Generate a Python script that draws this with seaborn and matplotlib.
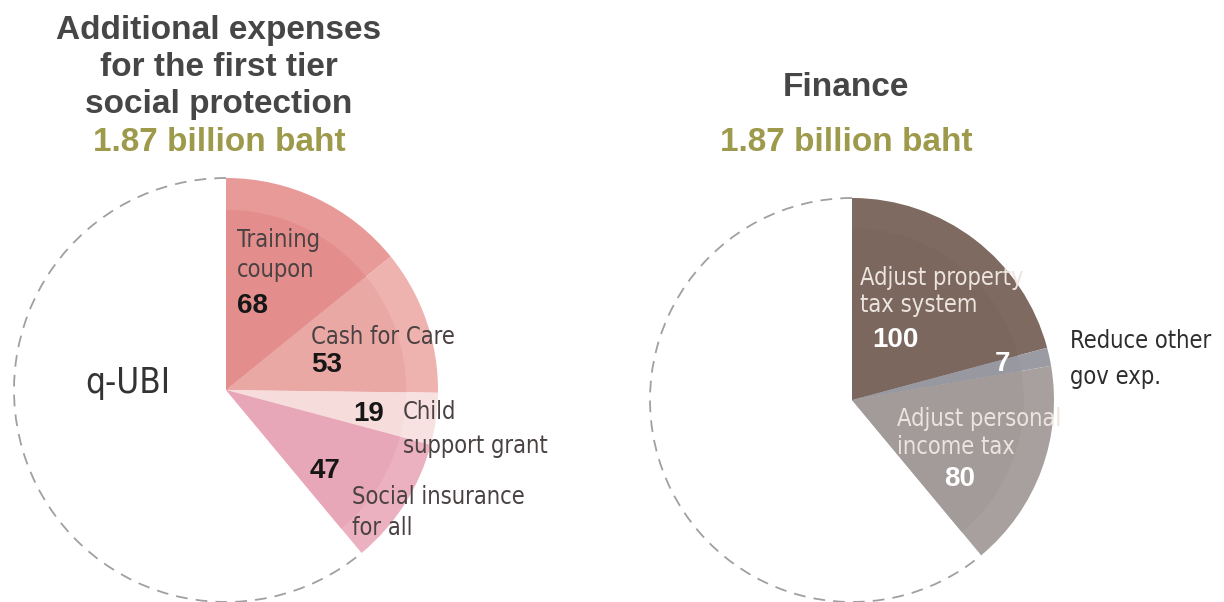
import matplotlib
matplotlib.use("Agg")
import matplotlib.pyplot as plt
import seaborn as sns
from matplotlib.patches import Arc
from matplotlib import font_manager as fm

# ---- data -------------------------------------------------------------
spend_labels = ["Training coupon", "Cash for Care", "Child support grant", "Social insurance for all"]
spend_values = [68, 53, 19, 47]
spend_rest_label = "q-UBI"
spend_rest_value = 293

finance_labels = ["Adjust property tax system", "Reduce other gov exp.", "Adjust personal income tax"]
finance_values = [100, 7, 80]
finance_rest_value = 293

left_title = ["Additional expenses", "for the first tier", "social protection"]
right_title = ["Finance"]
total_text = "1.87 billion baht"

# ---- styling ----------------------------------------------------------
spend_inner = ["#e38e8d", "#eaa8a5", "#f6dcdb", "#e8a7b9"]
spend_outer = ["#e89a98", "#eeb2af", "#f8e2e1", "#ecb1c1"]
finance_inner = ["#7b675d", "#9899a0", "#a29b9a"]
finance_outer = ["#7e6a60", "#9b9ca3", "#a7a09f"]

sns.set_theme(style="white")
plt.rcParams["font.family"] = ["Liberation Sans", "DejaVu Sans"]


def narrow_path():
    for f in fm.fontManager.ttflist:
        if f.name == "Liberation Sans Narrow" and f.style == "normal" and f.weight in (400, "normal", "regular"):
            return f.fname
    for f in fm.fontManager.ttflist:
        if f.name == "DejaVu Sans" and str(f.stretch) in ("condensed", "semi-condensed") \
                and f.style == "normal" and f.weight in (400, "normal", "book"):
            return f.fname
    return None


NARROW = narrow_path()


def label_font(size):
    if NARROW:
        return fm.FontProperties(fname=NARROW, size=size)
    return fm.FontProperties(family="Roboto", size=size)


num_font = dict(fontfamily="Liberation Sans", fontweight="bold", fontsize=20)

W, H = 1224, 602
fig = plt.figure(figsize=(W / 100, H / 100), dpi=100)
fig.patch.set_facecolor("white")


def pie_axes(cx, cy, r, lim=1.06):
    half = r * lim
    return fig.add_axes([(cx - half) / W, (H - cy - half) / H, 2 * half / W, 2 * half / H])


def draw_pie(ax, values, rest, inner, outer):
    vals = list(values) + [rest]
    rest_wedge = None
    for radius, cols, z in ((1.0, outer, 1), (0.85, inner, 2)):
        wedges, _ = ax.pie(vals, colors=list(cols) + ["white"], startangle=90,
                           counterclock=False, radius=radius,
                           wedgeprops=dict(linewidth=0))
        wedges[-1].set_visible(False)
        for w in wedges:
            w.set_zorder(z)
        if radius == 1.0:
            rest_wedge = wedges[-1]
    # dashed outline around the unfilled remainder
    ax.add_patch(Arc((0, 0), 2.0, 2.0, theta1=rest_wedge.theta1, theta2=rest_wedge.theta2,
                     ls=(0, (6.5, 4.5)), lw=1.3, color="#a0a0a0", zorder=0))
    ax.set_xlim(-1.06, 1.06)
    ax.set_ylim(-1.06, 1.06)
    ax.set_aspect("equal", adjustable="box")
    ax.axis("off")


# ---- left pie: additional expenses ------------------------------------
axl = pie_axes(226, 390, 212)
draw_pie(axl, spend_values, spend_rest_value, spend_inner, spend_outer)

lab_c = "#4a4242"
num_c = "#161616"
axl.text(0.052, 0.708, "Training", fontproperties=label_font(17), color=lab_c, va="center", zorder=5)
axl.text(0.052, 0.566, "coupon", fontproperties=label_font(17), color=lab_c, va="center", zorder=5)
axl.text(0.052, 0.396, str(spend_values[0]), color=num_c, va="center", zorder=5, **num_font)
axl.text(0.400, 0.250, "Cash for Care", fontproperties=label_font(17), color=lab_c, va="center", zorder=5)
axl.text(0.400, 0.118, str(spend_values[1]), color=num_c, va="center", zorder=5, **num_font)
axl.text(0.599, -0.113, str(spend_values[2]), color=num_c, va="center", zorder=5, **num_font)
axl.text(0.835, -0.104, "Child", fontproperties=label_font(17), color=lab_c, va="center", zorder=5)
axl.text(0.835, -0.264, "support grant", fontproperties=label_font(17), color=lab_c, va="center", zorder=5)
axl.text(0.396, -0.382, str(spend_values[3]), color=num_c, va="center", zorder=5, **num_font)
axl.text(0.594, -0.505, "Social insurance", fontproperties=label_font(17), color=lab_c, va="center", zorder=5)
axl.text(0.594, -0.650, "for all", fontproperties=label_font(17), color=lab_c, va="center", zorder=5)
axl.text(-0.665, 0.033, spend_rest_label, fontproperties=label_font(25), color="#333333", va="center", zorder=5)

# ---- right pie: finance -----------------------------------------------
axr = pie_axes(852, 400, 202)
draw_pie(axr, finance_values, finance_rest_value, finance_inner, finance_outer)

light = "#ece4df"
axr.text(0.040, 0.604, "Adjust property", fontproperties=label_font(17), color=light, va="center", zorder=5)
axr.text(0.040, 0.470, "tax system", fontproperties=label_font(17), color=light, va="center", zorder=5)
axr.text(0.099, 0.297, str(finance_values[0]), color="white", va="center", zorder=5, **num_font)
axr.text(0.743, 0.178, str(finance_values[1]), color="white", va="center", ha="center", zorder=5, **num_font)
axr.text(1.079, 0.290, "Reduce other", fontproperties=label_font(17), color="#2e2e2e", va="center", zorder=5)
axr.text(1.079, 0.114, "gov exp.", fontproperties=label_font(17), color="#2e2e2e", va="center", zorder=5)
axr.text(0.223, -0.094, "Adjust personal", fontproperties=label_font(17), color=light, va="center", zorder=5)
axr.text(0.223, -0.233, "income tax", fontproperties=label_font(17), color=light, va="center", zorder=5)
axr.text(0.535, -0.391, str(finance_values[2]), color="white", va="center", ha="center", zorder=5, **num_font)

# ---- titles -----------------------------------------------------------
title_c = "#464646"
olive = "#9d9a4b"
for i, line in enumerate(left_title):
    fig.text(219 / W, 1 - (30 + 37.5 * i) / H, line, ha="center", va="center",
             fontsize=24, fontweight="bold", color=title_c)
fig.text(219 / W, 1 - 143 / H, total_text, ha="center", va="center",
         fontsize=24, fontweight="bold", color=olive)
fig.text(846 / W, 1 - 87 / H, right_title[0], ha="center", va="center",
         fontsize=24, fontweight="bold", color=title_c)
fig.text(846 / W, 1 - 143 / H, total_text, ha="center", va="center",
         fontsize=24, fontweight="bold", color=olive)

fig.savefig("out.png", dpi=100, facecolor="white")
